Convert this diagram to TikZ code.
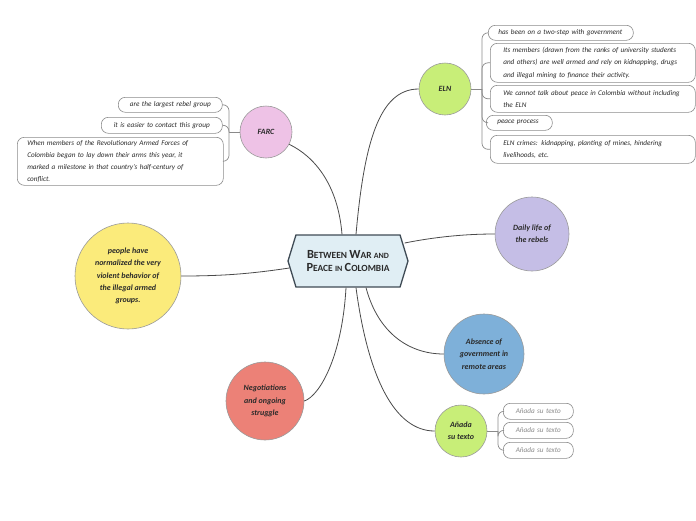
\documentclass[tikz,border=0pt]{standalone}
\usepackage{fontspec}
\setmainfont{Carlito}
\usetikzlibrary{shapes.symbols,calc}
\definecolor{hubfill}{HTML}{E0EEF4}
\definecolor{hubdraw}{HTML}{3F4B55}
\definecolor{farcfill}{HTML}{EEC2E6}
\definecolor{greenfill}{HTML}{C8EE78}
\definecolor{dailyfill}{HTML}{C5BEE6}
\definecolor{absfill}{HTML}{7EB0D9}
\definecolor{negfill}{HTML}{EC8177}
\definecolor{peoplefill}{HTML}{FBEB7B}
\definecolor{circgray}{HTML}{9A9A9A}
\definecolor{boxgray}{HTML}{8C8C8C}
\definecolor{txtdark}{HTML}{2A2A2A}
\definecolor{linedark}{HTML}{4A4A4A}
\definecolor{branchgray}{HTML}{8A8A8A}
\definecolor{placegray}{HTML}{8A8A8A}
\newcommand\mysc[2]{{\fontsize{12.4}{14}\selectfont #1}{\fontsize{9.4}{14}\selectfont #2}}
\begin{document}
\begin{tikzpicture}[x=1pt,y=-1pt,
  topic/.style={circle, draw=circgray, line width=0.6, inner sep=0, text=txtdark,
    font=\fontsize{8}{12.4}\selectfont\itshape\bfseries, align=center},
  sub/.style={draw=boxgray, fill=white, rounded corners=7, line width=0.6,
    inner xsep=13, inner ysep=0, anchor=north west, text=txtdark,
    font=\fontsize{7.2}{12.2}\selectfont\itshape, align=left},
  conn/.style={draw=linedark, line width=0.8},
  branch/.style={draw=branchgray, line width=0.7, rounded corners=6},
  hubstyle/.style={signal, signal to=east and west, signal pointer angle=146,
    draw=hubdraw, fill=hubfill, line width=1.3, minimum width=120, minimum height=52,
    inner sep=0, align=center, text=txtdark, font=\bfseries}
]
\useasboundingbox (0,0) rectangle (696,520);

% central topic
\node[hubstyle] (hub) at (348,261) {\mysc{B}{ETWEEN} \mysc{W}{AR} {\fontsize{8}{14}\selectfont AND}\\[1pt]
  \mysc{P}{EACE} {\fontsize{8}{14}\selectfont IN} \mysc{C}{OLOMBIA}};

% main topics
\node[topic, fill=farcfill, minimum size=52] (farc) at (266,132) {FARC};
\node[topic, fill=greenfill, minimum size=52] (eln) at (445,89) {ELN};
\node[topic, fill=dailyfill, minimum size=74] (daily) at (532,234) {Daily life of\\the rebels};
\node[topic, fill=absfill, minimum size=80] (absence) at (484,354) {Absence of\\government in\\remote areas};
\node[topic, fill=greenfill, minimum size=52] (anada) at (461,431) {Añada\\su texto};
\node[topic, fill=negfill, minimum size=78] (neg) at (265,401) {Negotiations\\and ongoing\\struggle};
\node[topic, fill=peoplefill, minimum size=106] (people) at (128,276) {people have\\normalized the very\\violent behavior of\\the illegal armed\\groups.};

% connectors from the central topic
\draw[conn] ($(hub.north)+(-6,0)$) .. controls +(-4,-50) and +(25,12) .. (farc.-28);
\draw[conn] ($(hub.north)+(8,0)$) .. controls +(8,-90) and +(-40,0) .. (eln.west);
\draw[conn] ($(hub.east)+(-4,-18)$) .. controls +(30,-6) and +(-30,0) .. (daily.west);
\draw[conn] ($(hub.west)+(2,7)$) .. controls +(-40,6) and +(40,0) .. (people.east);
\draw[conn] ($(hub.south)+(18,0)$) .. controls +(12,45) and +(-35,0) .. (absence.west);
\draw[conn] ($(hub.south)+(8,0)$) .. controls +(12,90) and +(-40,0) .. (anada.west);
\draw[conn] ($(hub.south)+(-2,0)$) .. controls +(-4,70) and +(15,-5) .. (neg.east);

% ELN subtopics
\node[sub, inner xsep=10, text width=125, minimum height=15] (e1) at (488,25) {has been on a two-step with government};
\node[sub, text width=179, minimum height=39] (e2) at (490,43) {Its members (drawn from the ranks of university students\\and others) are well armed and rely on kidnapping, drugs\\and illegal mining to finance their activity.};
\node[sub, text width=179, minimum height=27] (e3) at (490,85) {We cannot talk about peace in Colombia without including\\the ELN};
\node[sub, inner xsep=11, text width=44, minimum height=15] (e4) at (486,115) {peace process};
\node[sub, text width=179, minimum height=28] (e5) at (490,135) {ELN crimes: kidnapping, planting of mines, hindering\\livelihoods, etc.};
\coordinate (elnb) at (482,89);
\draw[branch] (eln.east) -- (elnb);
\foreach \b in {e1,e2,e3,e4,e5} \draw[branch] (elnb) |- (\b.west);

% FARC subtopics
\node[sub, inner xsep=7, text width=90, minimum height=15, align=center] (f1) at (118,97) {are the largest rebel group};
\node[sub, inner xsep=6, text width=109, minimum height=16, align=center] (f2) at (101,117) {it is easier to contact this group};
\node[sub, inner xsep=10, text width=186, minimum height=48] (f3) at (17,137) {When members of the Revolutionary Armed Forces of\\Colombia began to lay down their arms this year, it\\marked a milestone in that country's half-century of\\conflict.};
\coordinate (farcb) at (229,132);
\draw[branch] (farc.west) -- (farcb);
\foreach \b in {f1,f2,f3} \draw[branch] (farcb) |- (\b.east);

% "Añada su texto" subtopics
\node[sub, inner xsep=6, text width=58, minimum height=16, align=center, text=placegray] (a1) at (503,403) {Añada su texto};
\node[sub, inner xsep=6, text width=58, minimum height=16, align=center, text=placegray] (a2) at (503,422) {Añada su texto};
\node[sub, inner xsep=6, text width=58, minimum height=16, align=center, text=placegray] (a3) at (503,442) {Añada su texto};
\coordinate (anb) at (498,431);
\draw[branch] (anada.east) -- (anb);
\foreach \b in {a1,a2,a3} \draw[branch] (anb) |- (\b.west);
\end{tikzpicture}
\end{document}
